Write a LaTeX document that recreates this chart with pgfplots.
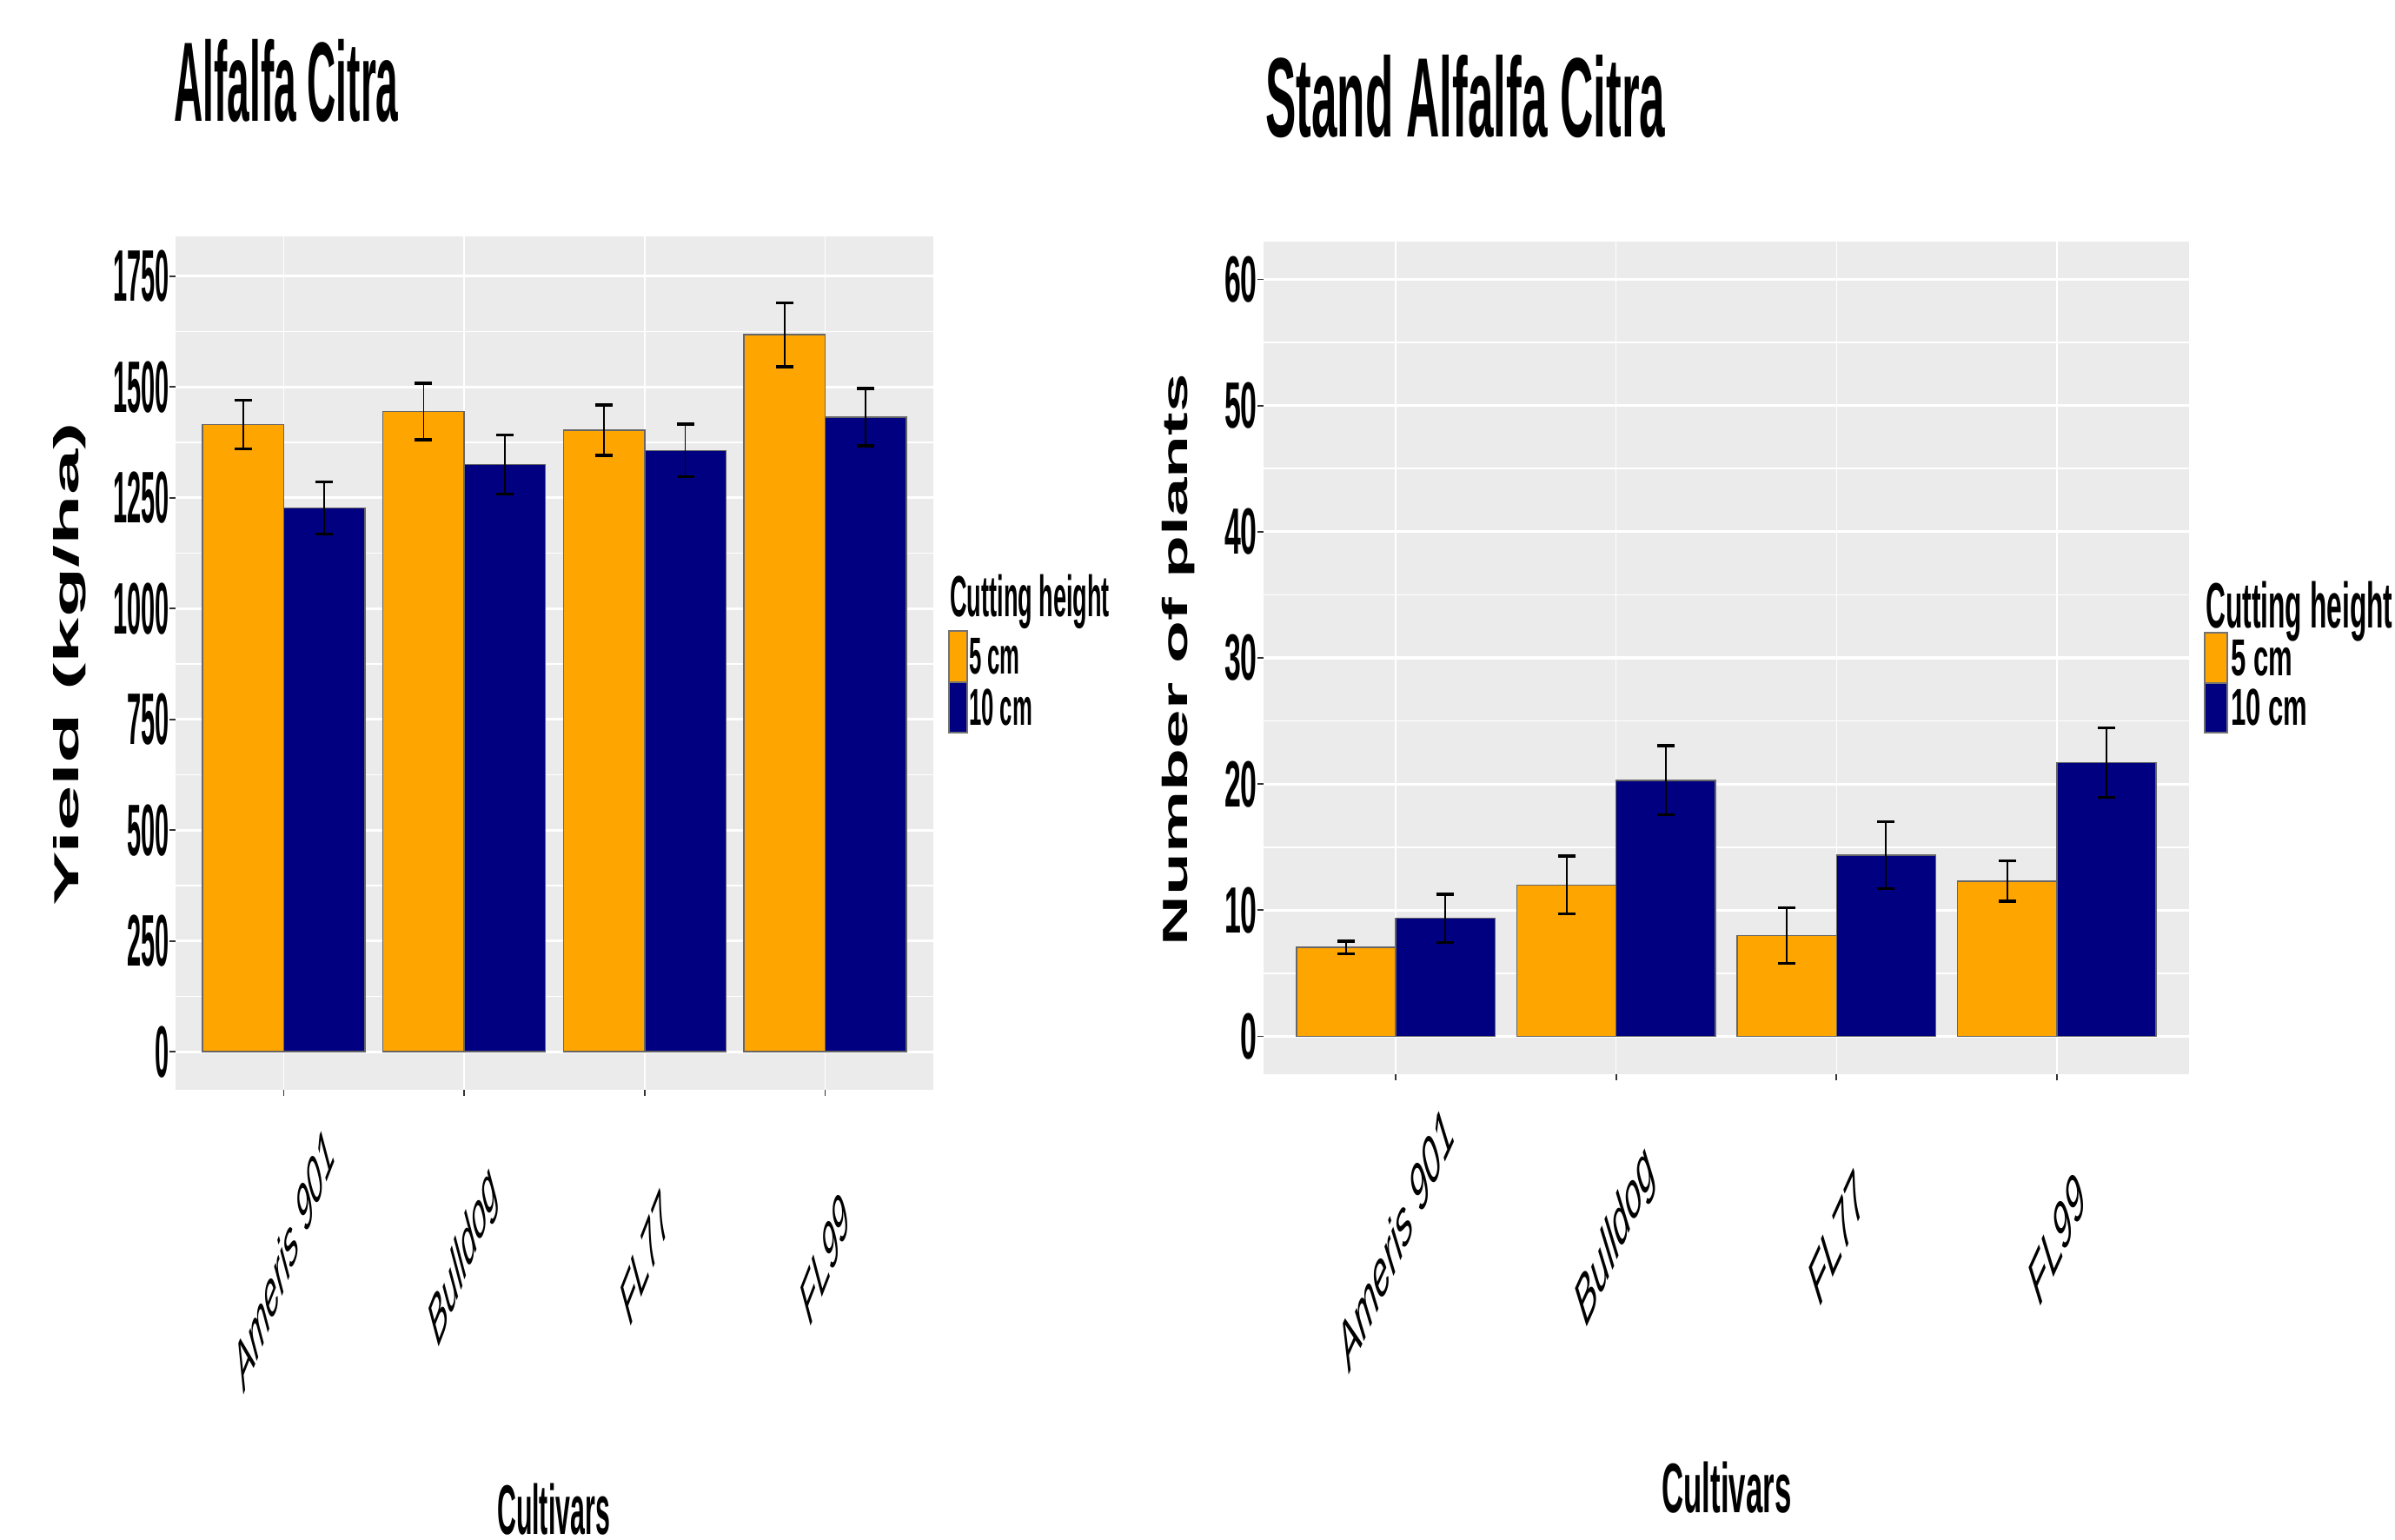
\documentclass[border=0pt]{standalone}
\usepackage{pgfplots}
\pgfplotsset{compat=1.18}
\usepackage{fontspec}
\setmainfont{Liberation Sans}
\definecolor{cor}{HTML}{FFA500}
\definecolor{cnavy}{HTML}{000080}
\definecolor{panel}{HTML}{EBEBEB}
\definecolor{tickc}{HTML}{333333}

\pgfplotstableread{
x y err
0 1415 55
1 1445 64
2 1403 57
3 1618 72
}\yieldfive
\pgfplotstableread{
x y err
0 1227 59
1 1325 67
2 1357 59
3 1432 65
}\yieldten
\pgfplotstableread{
x y err
0 7.05 0.5
1 12.0 2.3
2 8.0 2.2
3 12.3 1.6
}\standfive
\pgfplotstableread{
x y err
0 9.35 1.9
1 20.3 2.75
2 14.35 2.65
3 21.7 2.77
}\standten

\pgfplotsset{
  gg/.style={
    scale only axis,
    axis background/.style={fill=panel},
    axis line style={draw=none},
    tick align=outside, tick pos=left,
    major tick length=0.07cm, minor tick length=0pt,
    tick style={tickc, line width=0.5pt},
    xmajorgrids, ymajorgrids, yminorgrids,
    minor y tick num=1,
    major x grid style={white, line width=0.4pt},
    major y grid style={white, line width=0.9pt},
    minor y grid style={white, line width=0.45pt},
    xmin=-0.6, xmax=3.6, xtick={0,1,2,3},
    xticklabels={Ameris 901, Bulldog, FL77, FL99},
    ybar, bar width=0.45,
  },
  errs/.style={error bars/.cd, y dir=both, y explicit,
    error bar style={black, line width=0.5pt},
    error mark options={black, rotate=90, mark size=0.1cm, line width=1pt}},
}

\begin{document}
\begin{tikzpicture}[x=1cm,y=1cm]
\useasboundingbox (0,0) rectangle (27.56,17.71);

% ---------------- left panel
\begin{axis}[gg, at={(2.02cm,5.17cm)}, anchor=south west,
  width=8.72cm, height=9.82cm,
  ymin=-86, ymax=1840,
  ytick={0,250,500,750,1000,1250,1500,1750},
  yticklabels={0,250,500,750,1000,1250,1500,1750},
  yticklabel style={font=\fontsize{23.9}{24}\selectfont\bfseries, anchor=east, inner sep=0pt, xshift=0cm, xscale=0.345},
  xticklabel style={font=\fontsize{21.6}{22}\selectfont\itshape, anchor=center, inner sep=0pt, yshift=-1.87cm, xscale=0.39, rotate=45},
]
\addplot[fill=cor, draw=black!60, line width=0.4pt, bar shift=-0.225, errs]
  table[x=x, y=y, y error=err] {\yieldfive};
\addplot[fill=cnavy, draw=black!60, line width=0.4pt, bar shift=0.225, errs]
  table[x=x, y=y, y error=err] {\yieldten};
\end{axis}

% ---------------- right panel
\begin{axis}[gg, at={(14.54cm,5.35cm)}, anchor=south west,
  width=10.65cm, height=9.58cm,
  ymin=-3, ymax=63,
  ytick={0,10,20,30,40,50,60},
  yticklabels={0,10,20,30,40,50,60},
  yticklabel style={font=\fontsize{21.4}{22}\selectfont\bfseries, anchor=east, inner sep=0pt, xshift=0cm, xscale=0.45},
  xticklabel style={font=\fontsize{21.6}{22}\selectfont\itshape, anchor=center, inner sep=0pt, yshift=-1.82cm, xscale=0.45, rotate=45},
]
\addplot[fill=cor, draw=black!60, line width=0.4pt, bar shift=-0.225, errs]
  table[x=x, y=y, y error=err] {\standfive};
\addplot[fill=cnavy, draw=black!60, line width=0.4pt, bar shift=0.225, errs]
  table[x=x, y=y, y error=err] {\standten};
\end{axis}

% titles
\node[anchor=base west, inner sep=0pt, font=\fontsize{37}{37}\selectfont\bfseries, xscale=0.354] at (2.00,16.31) {Alfalfa Citra};
\node[anchor=base west, inner sep=0pt, font=\fontsize{37}{37}\selectfont\bfseries, xscale=0.408] at (14.56,16.13) {Stand Alfalfa Citra};

% y labels
\node[inner sep=0pt, font=\fontsize{11.4}{12}\selectfont\bfseries, rotate=90, xscale=2.35] at (0.80,10.07) {Yield (kg/ha)};
\node[inner sep=0pt, font=\fontsize{11.5}{12}\selectfont\bfseries, rotate=90, xscale=1.98] at (13.56,10.12) {Number of plants};

% x labels
\node[anchor=base, inner sep=0pt, font=\fontsize{23}{23}\selectfont\bfseries, xscale=0.375] at (6.37,0.06) {Cultivars};
\node[anchor=base, inner sep=0pt, font=\fontsize{23}{23}\selectfont\bfseries, xscale=0.43] at (19.87,0.31) {Cultivars};

% legend left
\node[anchor=base west, inner sep=0pt, font=\fontsize{19}{19}\selectfont\bfseries, xscale=0.406] at (10.93,10.61) {Cutting height};
\filldraw[fill=cor, draw=black!55, line width=0.4pt] (10.92,9.86) rectangle (11.13,10.45);
\filldraw[fill=cnavy, draw=black!55, line width=0.4pt] (10.92,9.28) rectangle (11.13,9.86);
\node[anchor=west, inner sep=0pt, font=\fontsize{17}{17}\selectfont\bfseries, xscale=0.43] at (11.15,10.16) {5 cm};
\node[anchor=west, inner sep=0pt, font=\fontsize{17}{17}\selectfont\bfseries, xscale=0.43] at (11.15,9.57) {10 cm};

% legend right
\node[anchor=base west, inner sep=0pt, font=\fontsize{21}{21}\selectfont\bfseries, xscale=0.43] at (25.38,10.49) {Cutting height};
\filldraw[fill=cor, draw=black!55, line width=0.4pt] (25.37,9.85) rectangle (25.63,10.43);
\filldraw[fill=cnavy, draw=black!55, line width=0.4pt] (25.37,9.28) rectangle (25.63,9.85);
\node[anchor=west, inner sep=0pt, font=\fontsize{17}{17}\selectfont\bfseries, xscale=0.52] at (25.67,10.14) {5 cm};
\node[anchor=west, inner sep=0pt, font=\fontsize{17}{17}\selectfont\bfseries, xscale=0.52] at (25.67,9.57) {10 cm};
\end{tikzpicture}
\end{document}
